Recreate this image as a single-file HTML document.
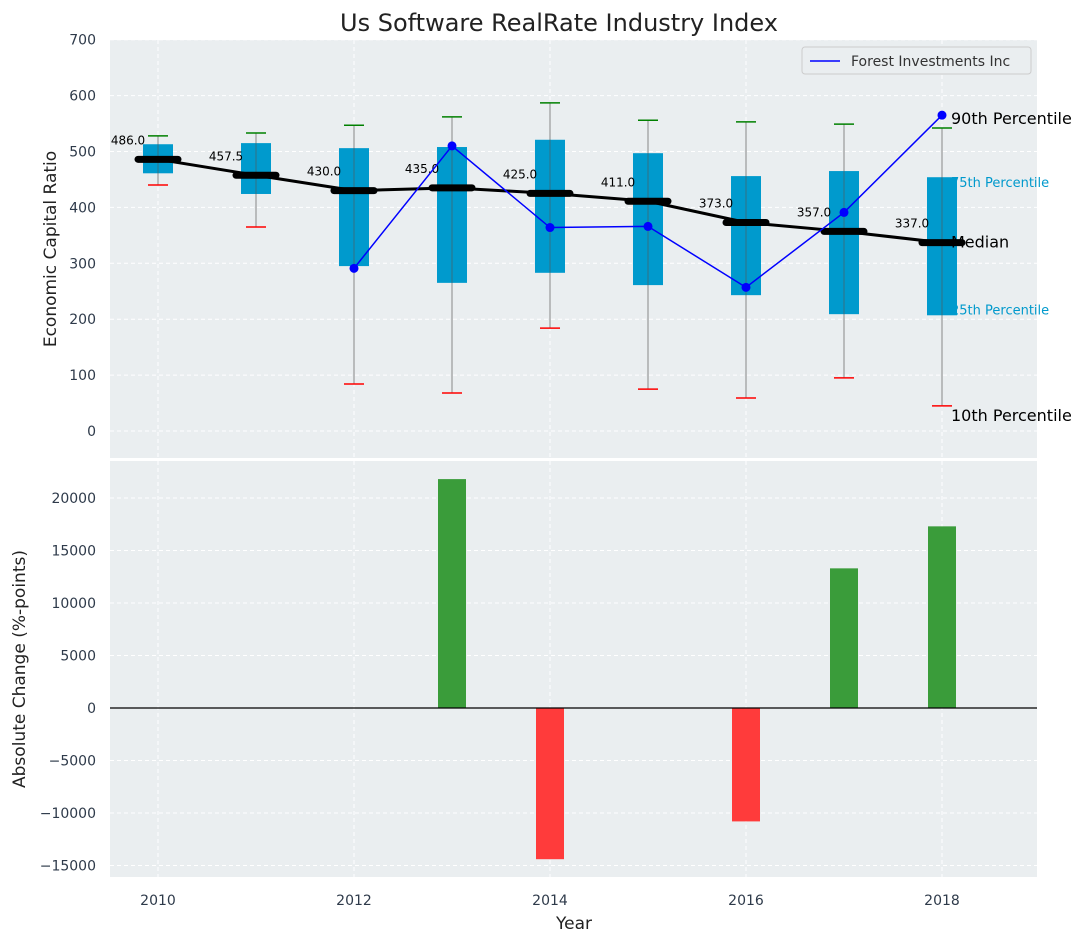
<!DOCTYPE html>
<html><head><meta charset="utf-8"><style>
body{margin:0;background:#fff;}
svg{display:block;font-family:"DejaVu Sans","Liberation Sans",sans-serif;}
</style></head><body>
<svg id="c" width="1086" height="942"></svg>
<script>
const years=[2010,2011,2012,2013,2014,2015,2016,2017,2018];
const p10=[440,365,84,68,184,75,59,95,45];
const p25=[461,424,295,265,283,261,243,209,207];
const medians=[486,457.5,430,435,425,411,373,357,337];
const p75=[513,515,506,508,521,497,456,465,454];
const p90=[528,533,547,562,587,556,553,549,542];
const forestYears=[2012,2013,2014,2015,2016,2017,2018];
const forestVals=[291,510,364,366,257,391,565];
const changeYears=[2013,2014,2016,2017,2018];
const changeVals=[21800,-14400,-10800,13300,17300];
const yTicksTop=[0,100,200,300,400,500,600,700];
const yTicksBot=[-15000,-10000,-5000,0,5000,10000,15000,20000];
const xTicks=[2010,2012,2014,2016,2018];

const NS="http://www.w3.org/2000/svg";
const svg=document.getElementById('c');
function el(t,a,txt){const e=document.createElementNS(NS,t);for(const k in a)e.setAttribute(k,a[k]);if(txt!==undefined)e.textContent=txt;svg.appendChild(e);return e;}
const X=y=>158+(y-2010)*98;
const YT=v=>431-v*0.559;
const YB=v=>708-v*0.0105;
const L=110,R=1037;
let e;

e=el('rect',{x:L,y:40,width:R-L,height:418,fill:'#eaeef0'});


e=el('rect',{x:L,y:461,width:R-L,height:416,fill:'#eaeef0'});



yTicksTop.forEach(v=>{
 el('line',{x1:L,x2:R,y1:YT(v),y2:YT(v),stroke:'#fff','stroke-dasharray':'4,3'});
 e=el('text',{x:96,y:YT(v)+5,'text-anchor':'end','font-size':14,fill:'#2e3a4a'},v);
 
 
});
yTicksBot.forEach(v=>{
 el('line',{x1:L,x2:R,y1:YB(v),y2:YB(v),stroke:'#fff','stroke-dasharray':'4,3'});
 e=el('text',{x:96,y:YB(v)+5,'text-anchor':'end','font-size':14,fill:'#2e3a4a'},(v<0?'\u2212'+(-v):v));
 
 
});
xTicks.forEach(y=>{
 el('line',{x1:X(y),x2:X(y),y1:40,y2:458,stroke:'#fff','stroke-dasharray':'4,3'});
 el('line',{x1:X(y),x2:X(y),y1:461,y2:877,stroke:'#fff','stroke-dasharray':'4,3'});
 e=el('text',{x:X(y),y:905,'text-anchor':'middle','font-size':14,fill:'#2e3a4a'},y);
 
 
});

const lx=X(2018);
function ann(t,y,fs,col,nm){
 e=el('text',{x:lx+9,y:y,'font-size':fs,fill:col},t);
 
 
}
ann('75th Percentile',YT(p75[8])+10,13,'#0099cc','p75-annotation');
ann('25th Percentile',YT(p25[8])-1,13,'#0099cc','p25-annotation');

years.forEach((y,i)=>{
 const x=X(y);
 e=el('line',{x1:x,x2:x,y1:YT(p10[i]),y2:YT(p90[i]),stroke:'#888','stroke-width':1});
 
 
 e=el('line',{x1:x-10,x2:x+10,y1:YT(p90[i]),y2:YT(p90[i]),stroke:'green','stroke-width':1.5});
 
 
 e=el('line',{x1:x-10,x2:x+10,y1:YT(p10[i]),y2:YT(p10[i]),stroke:'red','stroke-width':1.5});
 
 
 e=el('rect',{x:x-15,y:YT(p75[i]),width:30,height:YT(p25[i])-YT(p75[i]),fill:'#009acd'});
 
 
 el('line',{x1:x,x2:x,y1:YT(p75[i]),y2:YT(p25[i]),stroke:'#555','stroke-width':1,opacity:0.6});
});

e=el('polyline',{points:years.map((y,i)=>X(y)+','+YT(medians[i])).join(' '),fill:'none',stroke:'#000','stroke-width':3});


years.forEach((y,i)=>{
 e=el('line',{x1:X(y)-20,x2:X(y)+20,y1:YT(medians[i]),y2:YT(medians[i]),stroke:'#000','stroke-width':7,'stroke-linecap':'round'});
 
 
 e=el('text',{x:X(y)-30,y:YT(medians[i])-15,'text-anchor':'middle','font-size':12,fill:'#000'},medians[i].toFixed(1));
 
 
});

e=el('polyline',{points:forestYears.map((y,i)=>X(y)+','+YT(forestVals[i])).join(' '),fill:'none',stroke:'#0000ff','stroke-width':1.5});


forestYears.forEach((y,i)=>{
 e=el('circle',{cx:X(y),cy:YT(forestVals[i]),r:4.5,fill:'#0000ff'});
 
 
});

ann('90th Percentile',YT(p90[8])-4,16,'#000','p90-annotation');
ann('Median',YT(medians[8])+5,16,'#000','median-annotation');
ann('10th Percentile',YT(p10[8])+15,16,'#000','p10-annotation');

changeYears.forEach((y,i)=>{
 const v=changeVals[i];
 e=el('rect',{x:X(y)-14,y:Math.min(YB(v),YB(0)),width:28,height:Math.abs(YB(v)-YB(0)),fill:v>=0?'#3a9c3a':'#ff3b3b'});
 
 
});
e=el('line',{x1:L,x2:R,y1:YB(0),y2:YB(0),stroke:'#000','stroke-width':1.2});



e=el('rect',{x:802,y:47,width:229,height:27,fill:'#eaeef0',stroke:'#ccc',rx:3});


el('line',{x1:810,x2:840,y1:61,y2:61,stroke:'#0000ff','stroke-width':1.5});
e=el('text',{x:851,y:66,'font-size':14,fill:'#333'},'Forest Investments Inc');



e=el('text',{x:559,y:31,'text-anchor':'middle','font-size':24,fill:'#222'},'Us Software RealRate Industry Index');


e=el('text',{x:574,y:929,'text-anchor':'middle','font-size':17,fill:'#222'},'Year');


e=el('text',{x:0,y:0,'text-anchor':'middle','font-size':17,fill:'#222',transform:'translate(56,249) rotate(-90)'},'Economic Capital Ratio');


e=el('text',{x:0,y:0,'text-anchor':'middle','font-size':17,fill:'#222',transform:'translate(25,669) rotate(-90)'},'Absolute Change (%-points)');


</script>
</body></html>
